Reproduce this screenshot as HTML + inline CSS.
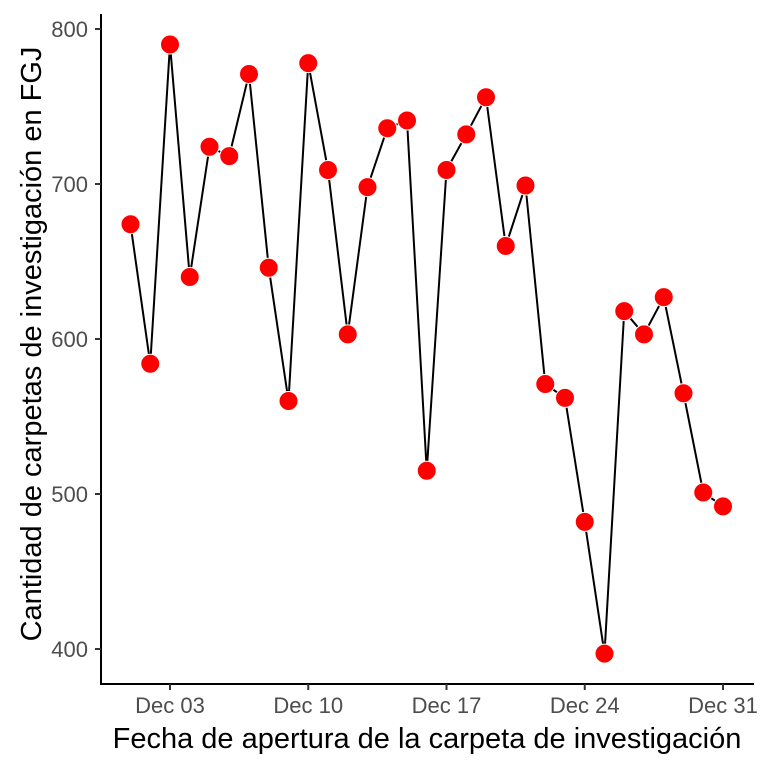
<!DOCTYPE html>
<html><head><meta charset="utf-8"><style>
html,body{margin:0;padding:0;background:#fff;}
svg{display:block;font-family:"Liberation Sans",Arial,sans-serif;}
</style></head><body>
<svg id="chart" width="768" height="768" viewBox="0 0 768 768">
<rect width="768" height="768" fill="#fff"/>
<g id="yaxis"></g>
<g id="xaxis"></g>
<g id="series"></g>
<text x="427" y="748" font-size="29" text-anchor="middle" fill="#000">Fecha de apertura de la carpeta de investigación</text>
<text transform="translate(41,344) rotate(-90)" font-size="29" text-anchor="middle" fill="#000">Cantidad de carpetas de investigación en FGJ</text>
</svg>
<script>
const days = [1,2,3,4,5,6,7,8,9,10,11,12,13,14,15,16,17,18,19,20,21,22,23,24,25,26,27,28,29,30,31];
const counts = [674,584,790,640,724,718,771,646,560,778,709,603,698,736,741,515,709,732,756,660,699,571,562,482,397,618,603,627,565,501,492];
const yTicks = [400,500,600,700,800];
const xTickDays = [3,10,17,24,31];
const xTickLabels = ["Dec 03","Dec 10","Dec 17","Dec 24","Dec 31"];

const NS="http://www.w3.org/2000/svg";
function xs(d){return 170+(d-3)*(723-170)/28;}
function ys(v){return 29+(800-v)*1.55;}
function mk(tag,attrs,parent){const e=document.createElementNS(NS,tag);for(const k in attrs)e.setAttribute(k,attrs[k]);parent.appendChild(e);return e;}

const ya=document.getElementById('yaxis'), xa=document.getElementById('xaxis'), sg=document.getElementById('series');
let l=mk('line',{x1:101,y1:14,x2:101,y2:685,stroke:'#000','stroke-width':2},ya);


l=mk('line',{x1:100,y1:684,x2:754,y2:684,stroke:'#000','stroke-width':2},xa);



yTicks.forEach(v=>{
  const y=ys(v);
  const t=mk('line',{x1:95,y1:y,x2:101,y2:y,stroke:'#333','stroke-width':2},ya);
  
  
  const tx=mk('text',{x:88,y:y+8,'font-size':22,'text-anchor':'end',fill:'#4d4d4d'},ya);
  tx.textContent=v;
  
  
});
xTickDays.forEach((d,i)=>{
  const x=xs(d);
  const t=mk('line',{x1:x,y1:684,x2:x,y2:690,stroke:'#333','stroke-width':2},xa);
  
  
  const tx=mk('text',{x:x,y:713,'font-size':22,'text-anchor':'middle',fill:'#4d4d4d'},xa);
  tx.textContent=xTickLabels[i];
  
  
});

const pts=days.map((d,i)=>xs(d)+','+ys(counts[i])).join(' ');
const pl=mk('polyline',{points:pts,fill:'none',stroke:'#000','stroke-width':2},sg);


days.forEach((d,i)=>{
  const c=mk('circle',{cx:xs(d),cy:ys(counts[i]),r:9.5,fill:'#ff0000',stroke:'#fff','stroke-width':1},sg);
  
  
});
</script>
</body></html>
